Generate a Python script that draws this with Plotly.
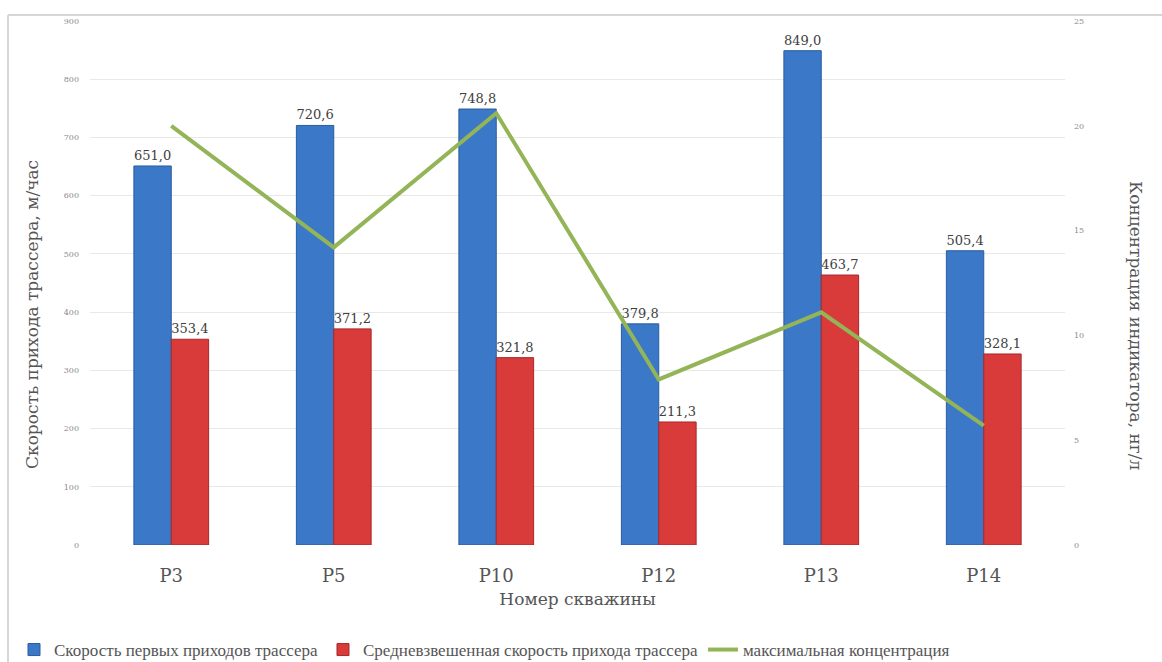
import plotly.graph_objects as go

wells = ["P3", "P5", "P10", "P12", "P13", "P14"]
first_arrival = [651.0, 720.6, 748.8, 379.8, 849.0, 505.4]
weighted_avg = [353.4, 371.2, 321.8, 211.3, 463.7, 328.1]
max_conc = [20.0, 14.2, 20.6, 7.9, 11.1, 5.7]

left_ticks = [0, 100, 200, 300, 400, 500, 600, 700, 800, 900]
right_ticks = [0, 5, 10, 15, 20, 25]

SERIF = "DejaVu Serif"
LEGEND_FONT = "Liberation Serif"
W, H = 1162, 662
ML, MR, MT, MB = 90, 97, 21, 117
PW, PH = W - ML - MR, H - MT - MB


def px_x(p):
    return (p - ML) / PW


def px_y(p):
    return (H - MB - p) / PH


def fmt(v):
    return f"{v:.1f}".replace(".", ",")


fig = go.Figure()
fig.add_trace(go.Bar(
    x=wells, y=first_arrival, name="Скорость первых приходов трассера",
    marker=dict(color="#3b78c8", line=dict(color="#2a5c9e", width=1)),
    text=[fmt(v) for v in first_arrival], textposition="outside",
    textfont=dict(family=SERIF, size=13, color="#404040"), cliponaxis=False,
))
fig.add_trace(go.Bar(
    x=wells, y=weighted_avg, name="Средневзвешенная скорость прихода трассера",
    marker=dict(color="#d93a3a", line=dict(color="#a82828", width=1)),
    text=[fmt(v) for v in weighted_avg], textposition="outside",
    textfont=dict(family=SERIF, size=13, color="#404040"), cliponaxis=False,
))
fig.add_trace(go.Scatter(
    x=wells, y=max_conc, name="максимальная концентрация", yaxis="y2",
    mode="lines", line=dict(color="#93b457", width=4),
))

fig.update_layout(
    width=W, height=H,
    font=dict(family=SERIF, color="#555555"),
    margin=dict(l=ML, r=MR, t=MT, b=MB, autoexpand=False),
    paper_bgcolor="white", plot_bgcolor="white",
    barmode="group", bargap=0.54, bargroupgap=0,
    showlegend=True,
    legend=dict(orientation="h", xref="container", yref="container",
                x=14 / W, y=1 - 650 / H, xanchor="left", yanchor="middle",
                font=dict(family=LEGEND_FONT, size=17, color="#555555"),
                itemwidth=30, tracegroupgap=0, traceorder="normal"),
    xaxis=dict(
        tickfont=dict(family=SERIF, size=18, color="#555555"),
        showline=False, showgrid=False, ticks="", automargin=False,
        ticklabelstandoff=18,
        title=dict(text="Номер скважины", font=dict(family=SERIF, size=17, color="#555555"), standoff=8),
    ),
    yaxis=dict(
        range=[0, 900], tickvals=left_ticks, automargin=False,
        tickfont=dict(family=SERIF, size=8, color="#8a8a8a"),
        gridcolor="#e8e8e8", gridwidth=1, zeroline=False, showline=False, ticks="",
        ticklabelstandoff=10,
    ),
    yaxis2=dict(
        range=[0, 25], tickvals=right_ticks, overlaying="y", side="right", automargin=False,
        tickfont=dict(family=SERIF, size=8, color="#8a8a8a"),
        showgrid=False, zeroline=False, showline=False, ticks="",
        ticklabelstandoff=8,
    ),
    annotations=[
        dict(text="Скорость прихода трассера, м/час", textangle=-90,
             x=px_x(20), y=px_y(315), xref="paper", yref="paper",
             showarrow=False, font=dict(family=SERIF, size=17, color="#555555")),
        dict(text="Концентрация индикатора, нг/л", textangle=90,
             x=px_x(1148), y=px_y(326), xref="paper", yref="paper",
             showarrow=False, font=dict(family=SERIF, size=17, color="#555555")),
    ],
    shapes=[
        dict(type="line", xref="paper", yref="paper", x0=px_x(8), x1=px_x(W + 5),
             y0=px_y(15), y1=px_y(15), line=dict(color="#c8c8c8", width=1.5)),
        dict(type="line", xref="paper", yref="paper", x0=px_x(8), x1=px_x(8),
             y0=px_y(15), y1=px_y(H + 5), line=dict(color="#c8c8c8", width=1.5)),
    ],
)

fig.write_html("out.html")
